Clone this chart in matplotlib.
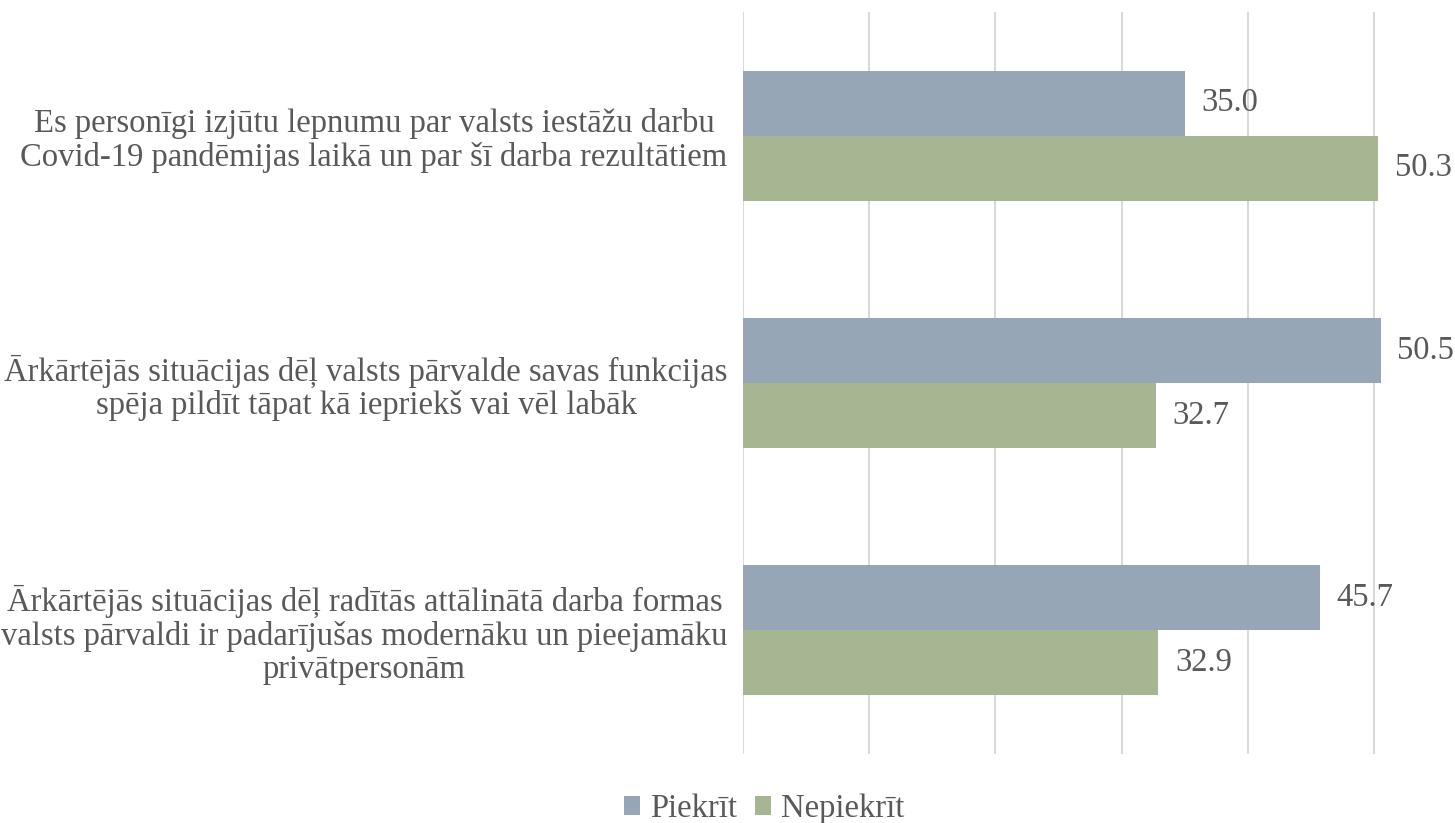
import numpy as np
import matplotlib.pyplot as plt

plt.rcParams['font.family'] = ['Liberation Serif', 'DejaVu Serif']

kategorijas = [
    'Es personīgi izjūtu lepnumu par valsts iestāžu darbu\nCovid-19 pandēmijas laikā un par šī darba rezultātiem',
    'Ārkārtējās situācijas dēļ valsts pārvalde savas funkcijas\nspēja pildīt tāpat kā iepriekš vai vēl labāk',
    'Ārkārtējās situācijas dēļ radītās attālinātā darba formas\nvalsts pārvaldi ir padarījušas modernāku un pieejamāku\nprivātpersonām',
]
piekrit = [35.0, 50.5, 45.7]
nepiekrit = [50.3, 32.7, 32.9]

teksts = '#595959'
fs = 23.5
fig = plt.figure(figsize=(14.55, 8.23), dpi=100)
ax = fig.add_axes([743 / 1455, 1 - 754 / 823, 1 - 743 / 1455, 742 / 823])

y = np.arange(len(kategorijas))
h = 0.263
b1 = ax.barh(y - h / 2, piekrit, height=h, color='#97A6B7', label='Piekrīt', zorder=2)
b2 = ax.barh(y + h / 2, nepiekrit, height=h, color='#A6B592', label='Nepiekrīt', zorder=2)

for bars in (b1, b2):
    ax.bar_label(bars, fmt='%.1f', padding=12, fontsize=fs, color=teksts)

ax.set_xlim(0, 56.4)
ax.set_ylim(2.5, -0.5)
ax.set_xticks([0, 10, 20, 30, 40, 50])
ax.set_xticklabels([])
ax.tick_params(axis='x', length=0)
ax.grid(axis='x', color='#D9D9D9', linewidth=1.5, zorder=0)
ax.set_yticks(y)
ax.set_yticklabels(kategorijas, fontsize=fs, color=teksts, multialignment='center', linespacing=1.1)
ax.tick_params(axis='y', length=0, pad=11)
for s in ax.spines.values():
    s.set_visible(False)

fig.legend(loc='center', bbox_to_anchor=(764 / 1455, 1 - 809 / 823), ncol=2, frameon=False,
           fontsize=fs, labelcolor=teksts, handlelength=0.5, handleheight=0.5,
           handletextpad=0.3, columnspacing=0.55)

fig.savefig('out.png', dpi=100)
